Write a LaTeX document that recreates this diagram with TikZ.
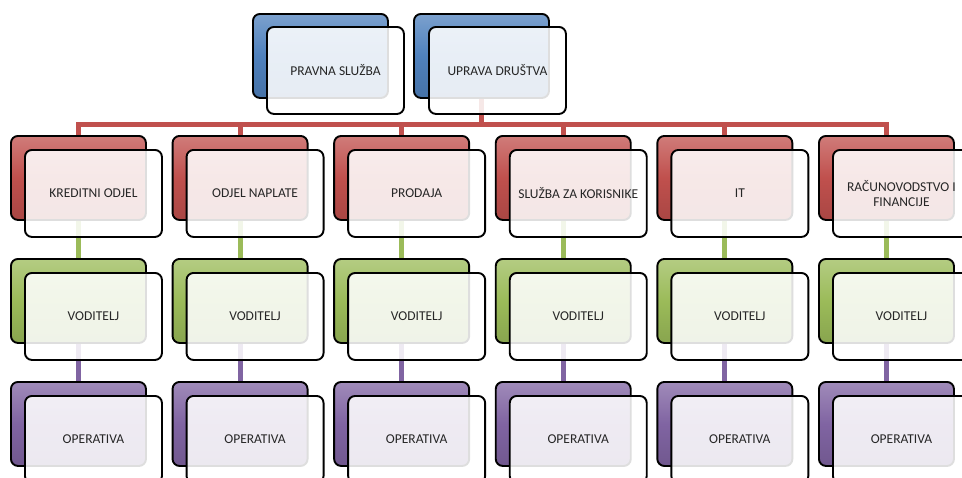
\documentclass[tikz,border=0pt]{standalone}
\usepackage{fontspec}
\setmainfont{Carlito}
\definecolor{cred}{HTML}{C0504D}
\definecolor{cgreen}{HTML}{9BBB59}
\definecolor{cpurple}{HTML}{8064A2}
\definecolor{cblue}{HTML}{4F81BD}
\definecolor{ctext}{HTML}{262626}
\tikzset{
  backbox/.style={draw=black, line width=1.9pt, rounded corners=7pt,
    minimum width=135pt, minimum height=84pt, anchor=north west, inner sep=0pt,
    top color=#1!75!white, bottom color=#1!88!black, middle color=#1},
  frontbox/.style={draw=black, line width=1.9pt, rounded corners=7pt,
    minimum width=137pt, minimum height=87pt, anchor=north west, inner sep=2pt,
    fill=white, fill opacity=0.87, text opacity=1, text=ctext,
    font=\fontsize{13.5}{15}\selectfont, align=center},
  conn/.style={line width=5pt, draw=#1},
}
\begin{document}
\begin{tikzpicture}[x=1pt,y=-1pt]
\useasboundingbox (0,0) rectangle (962,477);
\clip (0,0) rectangle (962,477);
% top row back boxes
\node[backbox=cblue] (pb) at (252,13) {};
\node[backbox=cblue] (ub) at (413,13) {};
\coordinate (barY) at (0,124.5);
% column back boxes
\foreach \i in {1,...,6}{
  \pgfmathsetmacro{\cx}{10+161.6*(\i-1)}
  \node[backbox=cred] (r\i b) at (\cx,135) {};
  \node[backbox=cgreen] (g\i b) at (\cx,258) {};
  \node[backbox=cpurple] (p\i b) at (\cx,381) {};
}
% connectors
\draw[conn=cred] (ub.south) -- (ub.south |- barY);
\draw[conn=cred, line cap=rect] (r1b.north |- barY) -- (r6b.north |- barY);
\foreach \i in {1,...,6}{
  \draw[conn=cred] (r\i b.north |- barY) -- (r\i b.north);
  \draw[conn=cgreen] (r\i b.south) -- (g\i b.north);
  \draw[conn=cpurple] (g\i b.south) -- (p\i b.north);
}
% front boxes
\node[frontbox] (pf) at (266,26) {PRAVNA SLUŽBA};
\node[frontbox] (uf) at (428,26) {UPRAVA DRUŠTVA};
\foreach \i/\lab in {1/KREDITNI ODJEL, 2/ODJEL NAPLATE, 3/PRODAJA, 4/SLUŽBA ZA KORISNIKE, 5/IT, 6/{RAČUNOVODSTVO I\\FINANCIJE}}{
  \pgfmathsetmacro{\fx}{24+161.6*(\i-1)}
  \node[frontbox] (r\i f) at (\fx,149) {\lab};
  \node[frontbox] (g\i f) at (\fx,272) {VODITELJ};
  \node[frontbox] (p\i f) at (\fx,395) {OPERATIVA};
}
\end{tikzpicture}
\end{document}
